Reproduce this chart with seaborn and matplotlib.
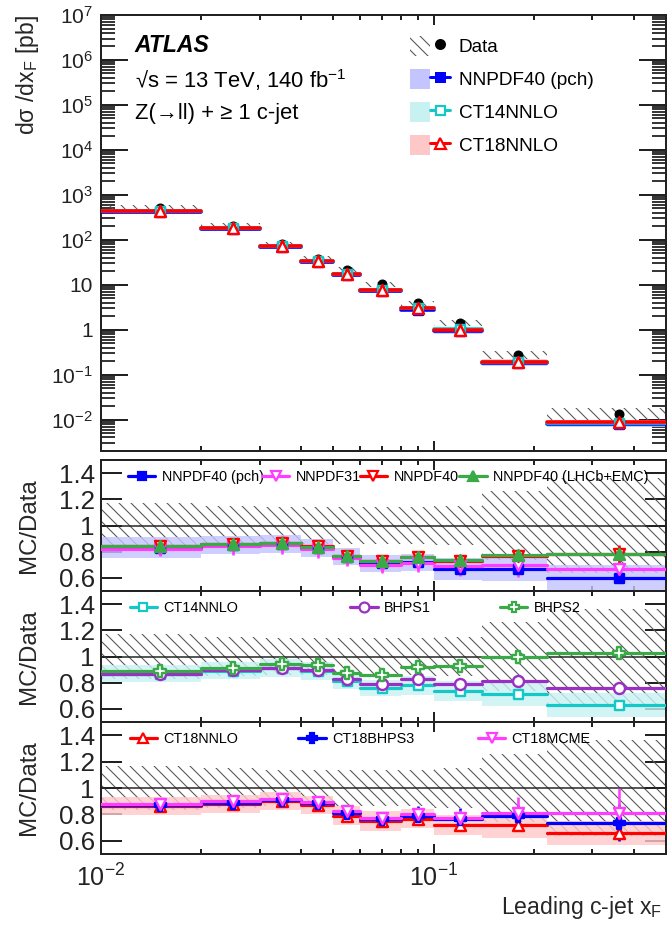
import numpy as np
import pandas as pd
import matplotlib
matplotlib.use("Agg")
import matplotlib.pyplot as plt
import seaborn as sns
from matplotlib.lines import Line2D
from matplotlib.patches import Patch
from matplotlib.legend import Legend
from matplotlib.legend_handler import HandlerTuple
from matplotlib.ticker import FixedLocator, FuncFormatter, NullFormatter, NullLocator

# ---- binning in leading c-jet x_F ----
bin_edges = [0.01, 0.02, 0.03, 0.04, 0.05, 0.06, 0.08, 0.10, 0.14, 0.22, 0.50]

# ---- measured differential cross section [pb] and relative total uncertainty ----
data_xs = [510, 205, 80, 38, 21.5, 10.3, 3.9, 1.4, 0.27, 0.0134]
data_rel_unc = [0.17, 0.15, 0.14, 0.14, 0.14, 0.14, 0.14, 0.15, 0.26, 0.36]

# ---- MC/Data ratios: NNPDF family ----
nnpdf40_pch = [0.83, 0.85, 0.86, 0.83, 0.76, 0.71, 0.72, 0.67, 0.67, 0.60]
nnpdf40_pch_band = [0.08, 0.07, 0.07, 0.07, 0.065, 0.065, 0.065, 0.085, 0.095, 0.10]
nnpdf40_pch_err = [0.01, 0.01, 0.01, 0.01, 0.01, 0.01, 0.015, 0.02, 0.02, 0.04]
nnpdf31 = [0.82, 0.84, 0.85, 0.82, 0.75, 0.70, 0.71, 0.69, 0.70, 0.67]
nnpdf31_err = [0.055, 0.065, 0.07, 0.07, 0.06, 0.06, 0.065, 0.077, 0.09, 0.085]
nnpdf40 = [0.84, 0.86, 0.87, 0.84, 0.77, 0.73, 0.76, 0.73, 0.77, 0.78]
nnpdf40_err = [0.02, 0.02, 0.02, 0.02, 0.02, 0.02, 0.02, 0.02, 0.03, 0.07]
nnpdf40_lhcb = [0.84, 0.855, 0.865, 0.835, 0.77, 0.73, 0.76, 0.735, 0.775, 0.78]

# ---- MC/Data ratios: CT14 and BHPS ----
ct14nnlo = [0.87, 0.89, 0.91, 0.89, 0.81, 0.76, 0.78, 0.735, 0.715, 0.63]
ct14nnlo_band = [0.065, 0.065, 0.07, 0.068, 0.06, 0.06, 0.072, 0.077, 0.095, 0.092]
bhps1 = [0.87, 0.895, 0.915, 0.90, 0.83, 0.79, 0.825, 0.79, 0.81, 0.76]
bhps2 = [0.89, 0.915, 0.945, 0.935, 0.875, 0.86, 0.92, 0.925, 1.0, 1.03]

# ---- MC/Data ratios: CT18 family ----
ct18nnlo = [0.863, 0.88, 0.90, 0.873, 0.79, 0.75, 0.767, 0.72, 0.72, 0.66]
ct18nnlo_band = [0.066, 0.07, 0.07, 0.067, 0.071, 0.072, 0.073, 0.078, 0.095, 0.089]
ct18nnlo_err = [0.01, 0.01, 0.01, 0.01, 0.01, 0.01, 0.01, 0.01, 0.02, 0.03]
ct18bhps3 = [0.873, 0.89, 0.907, 0.883, 0.81, 0.765, 0.79, 0.767, 0.785, 0.737]
ct18bhps3_err = [0.01, 0.01, 0.015, 0.015, 0.02, 0.045, 0.07, 0.08, 0.09, 0.14]
ct18mcme = [0.88, 0.90, 0.914, 0.894, 0.823, 0.77, 0.805, 0.775, 0.81, 0.81]
ct18mcme_err = [0.01, 0.01, 0.015, 0.015, 0.02, 0.03, 0.04, 0.06, 0.12, 0.19]

# ---- axis ticks ----
xs_major = [0.01, 0.1]
xs_minor = [0.02, 0.03, 0.04, 0.05, 0.06, 0.07, 0.08, 0.09, 0.2, 0.3, 0.4]
ys_decades = [1e-2, 1e-1, 1, 10, 1e2, 1e3, 1e4, 1e5, 1e6, 1e7]
ratio_ticks = [0.6, 0.8, 1.0, 1.2, 1.4]

# ---- style ----
sns.set_style("ticks")
plt.rcParams.update({
    "font.family": ["Liberation Sans", "DejaVu Sans"],
    "mathtext.fontset": "custom",
    "mathtext.rm": "Liberation Sans",
    "mathtext.it": "Liberation Sans:italic",
    "mathtext.bf": "Liberation Sans:bold",
    "mathtext.sf": "Liberation Sans",
    "mathtext.default": "regular",
    "hatch.linewidth": 0.55,
    "axes.linewidth": 1.0,
    "axes.edgecolor": "#222222",
    "xtick.color": "#222222",
    "ytick.color": "#222222",
    "text.color": "black",
})

BLUE = "#0000ff"
MAGENTA = "#ff3cff"
RED = "#ff0000"
GREEN = "#3aaa48"
TEAL = "#14c8c8"
PURPLE = "#9a2fc4"
BLUE_BAND = "#c4c4ff"
TEAL_BAND = "#c8f2f2"
RED_BAND = "#ffc8c8"
HATCH_COL = "#5a5a5a"
HATCH = chr(92) * 4  # dense down-right diagonal lines

edges = np.array(bin_edges)
lo, hi = edges[:-1], edges[1:]
centers = 0.5 * (lo + hi)
nbin = len(centers)
data = np.array(data_xs)
drel = np.array(data_rel_unc)

fig = plt.figure(figsize=(667 / 144, 928 / 144), dpi=144)
L, W = 101 / 667, 565 / 667
ax_top = fig.add_axes([L, 1 - 451 / 928, W, 436 / 928])
ax_r1 = fig.add_axes([L, 1 - 591 / 928, W, 131 / 928])
ax_r2 = fig.add_axes([L, 1 - 722 / 928, W, 131 / 928])
ax_r3 = fig.add_axes([L, 1 - 854 / 928, W, 132 / 928])
ratio_axes = [ax_r1, ax_r2, ax_r3]


def segments(values):
    """Long table of one horizontal segment per bin."""
    v = np.asarray(values, dtype=float)
    return pd.DataFrame({
        "x": np.r_[lo, hi],
        "y": np.r_[v, v],
        "bin": np.r_[np.arange(nbin), np.arange(nbin)],
    })


def draw_line(ax, values, color, lw=1.5, z=3):
    sns.lineplot(data=segments(values), x="x", y="y", units="bin", estimator=None,
                 color=color, lw=lw, ax=ax, legend=False, zorder=z)


def draw_band(ax, values, half, color, z=2, alpha=0.85):
    v = np.asarray(values, dtype=float)
    h = np.asarray(half, dtype=float)
    ax.bar(lo, 2 * h, bottom=v - h, width=hi - lo, align="edge",
           color=color, alpha=alpha, linewidth=0, zorder=z)


def draw_markers(ax, values, color, marker, open_=False, size=5.5, err=None, z=5):
    v = np.asarray(values, dtype=float)
    if err is not None:
        ax.errorbar(centers, v, yerr=err, fmt="none", ecolor=color, elinewidth=1.3,
                    capsize=0, zorder=z - 0.5)
    fc = "white" if open_ else color
    sns.scatterplot(x=centers, y=v, marker=marker, s=size ** 2, facecolor=fc,
                    edgecolor=color, linewidth=1.2, ax=ax, zorder=z, legend=False)


def draw_data_hatch(ax, lower, upper, z=1):
    ax.bar(lo, upper - lower, bottom=lower, width=hi - lo, align="edge",
           facecolor="none", edgecolor=HATCH_COL, hatch=HATCH, linewidth=0, zorder=z)


def log_label(v, pos):
    e = int(round(np.log10(v)))
    if e == 0:
        return "1"
    if e == 1:
        return "10"
    return r"$\mathregular{10^{%d}}$" % e


# ================= top panel =================
ax = ax_top
ax.set_xscale("log")
ax.set_yscale("log")
ax.set_xlim(0.01, 0.5)
ax.set_ylim(2e-3, 1e7)

draw_data_hatch(ax, data * (1 - drel), data * (1 + drel))
pred_pch = np.array(nnpdf40_pch) * data
pred_ct14 = np.array(ct14nnlo) * data
pred_ct18 = np.array(ct18nnlo) * data
draw_band(ax, pred_pch, np.array(nnpdf40_pch_band) * data, BLUE_BAND)
draw_band(ax, pred_ct14, np.array(ct14nnlo_band) * data, TEAL_BAND)
draw_band(ax, pred_ct18, np.array(ct18nnlo_band) * data, RED_BAND)
draw_line(ax, pred_pch, BLUE, lw=1.8)
draw_line(ax, pred_ct14, TEAL, lw=1.8)
draw_line(ax, pred_ct18, RED, lw=1.8)
sns.scatterplot(x=centers, y=data, marker="o", s=4.5 ** 2, color="black",
                edgecolor="black", linewidth=0.5, ax=ax, zorder=4, legend=False)
draw_markers(ax, pred_pch, BLUE, "s", size=4.5, z=5)
draw_markers(ax, pred_ct14, TEAL, "s", open_=True, size=4.5, z=5.2)
draw_markers(ax, pred_ct18, RED, "^", open_=True, size=5.5, z=5.4)

y_minor = [m * d for d in [1e-3] + ys_decades[:-1] for m in range(2, 10)
           if 2e-3 <= m * d <= 1e7]
ax.yaxis.set_major_locator(FixedLocator(ys_decades))
ax.yaxis.set_minor_locator(FixedLocator(y_minor))
ax.yaxis.set_major_formatter(FuncFormatter(log_label))
ax.yaxis.set_minor_formatter(NullFormatter())
ax.set_ylabel(r"dσ /dx$_\mathregular{F}$ [pb]", loc="top", fontsize=11.5)
ax.yaxis.set_label_coords(-0.106, 1.0)

ax.text(0.06, 0.931, "ATLAS", transform=ax.transAxes, fontsize=11.5,
        fontweight="bold", fontstyle="italic", va="center", ha="left")
ax.text(0.06, 0.851, "√s = 13 TeV, 140 fb$^{-1}$", transform=ax.transAxes,
        fontsize=11, va="center", ha="left")
ax.text(0.06, 0.775, "Z(→ll) + ≥ 1 c-jet", transform=ax.transAxes,
        fontsize=11, va="center", ha="left")

top_handles = [
    (Patch(facecolor="none", edgecolor=HATCH_COL, hatch=HATCH, linewidth=0),
     Line2D([], [], ls="none", marker="o", color="black", ms=4.5)),
    (Patch(facecolor=BLUE_BAND, edgecolor="none"),
     Line2D([], [], color=BLUE, lw=1.5, marker="s", ms=4.5)),
    (Patch(facecolor=TEAL_BAND, edgecolor="none"),
     Line2D([], [], color=TEAL, lw=1.5, marker="s", ms=4.5, mfc="white", mew=1.1)),
    (Patch(facecolor=RED_BAND, edgecolor="none"),
     Line2D([], [], color=RED, lw=1.5, marker="^", ms=5.5, mfc="white", mew=1.1)),
]
top_labels = ["Data", "NNPDF40 (pch)", "CT14NNLO", "CT18NNLO"]
ax.legend(top_handles, top_labels, handler_map={tuple: HandlerTuple(ndivide=None, pad=0)},
          loc="upper left", bbox_to_anchor=(0.547, 0.952), frameon=False,
          fontsize=9.5, handlelength=2.1, handleheight=1.25, handletextpad=0.45,
          labelspacing=0.66, borderpad=0, borderaxespad=0)

# ================= ratio panels =================
ratio_models = [
    [  # NNPDF family
        dict(label="NNPDF40 (pch)", y=nnpdf40_pch, band=nnpdf40_pch_band, err=nnpdf40_pch_err,
             color=BLUE, marker="s", open_=False, band_color=BLUE_BAND, ms=4.5),
        dict(label="NNPDF31", y=nnpdf31, err=nnpdf31_err, color=MAGENTA, marker="v", open_=True, ms=5.5),
        dict(label="NNPDF40", y=nnpdf40, err=nnpdf40_err, color=RED, marker="v", open_=True, ms=5.5),
        dict(label="NNPDF40 (LHCb+EMC)", y=nnpdf40_lhcb, color=GREEN, marker="^", open_=False, ms=5.5),
    ],
    [  # CT14 and intrinsic charm models
        dict(label="CT14NNLO", y=ct14nnlo, band=ct14nnlo_band, color=TEAL, marker="s",
             open_=True, band_color=TEAL_BAND, ms=4.5),
        dict(label="BHPS1", y=bhps1, color=PURPLE, marker="o", open_=True, ms=5.5),
        dict(label="BHPS2", y=bhps2, color=GREEN, marker="P", open_=True, ms=6),
    ],
    [  # CT18 family
        dict(label="CT18NNLO", y=ct18nnlo, band=ct18nnlo_band, err=ct18nnlo_err, color=RED,
             marker="^", open_=True, band_color=RED_BAND, ms=5.5),
        dict(label="CT18BHPS3", y=ct18bhps3, err=ct18bhps3_err, color=BLUE, marker="P", open_=False, ms=5.5),
        dict(label="CT18MCME", y=ct18mcme, err=ct18mcme_err, color=MAGENTA, marker="v", open_=True, ms=5.5),
    ],
]
legend_x = [
    [0.048, 0.285, 0.458, 0.634],
    [0.051, 0.441, 0.706],
    [0.051, 0.349, 0.667],
]

for ax, models, xs in zip(ratio_axes, ratio_models, legend_x):
    ax.set_xscale("log")
    ax.set_xlim(0.01, 0.5)
    ax.set_ylim(0.5, 1.5)
    draw_data_hatch(ax, 1 - drel, 1 + drel)
    for m in models:
        if "band" in m:
            draw_band(ax, m["y"], m["band"], m["band_color"], z=2, alpha=0.8)
    ax.axhline(1.0, color="#222222", lw=0.75, zorder=2.5)
    for i, m in enumerate(models):
        draw_line(ax, m["y"], m["color"], lw=1.6, z=3 + 0.1 * i)
    for i, m in enumerate(models):
        draw_markers(ax, m["y"], m["color"], m["marker"], open_=m["open_"], size=m["ms"],
                     err=m.get("err"), z=5 + 0.1 * i)
    for m, x0 in zip(models, xs):
        h = Line2D([], [], color=m["color"], lw=1.6, marker=m["marker"], ms=m["ms"] * 0.9,
                   mfc="white" if m["open_"] else m["color"], mew=1.1)
        leg = Legend(ax, [h], [m["label"]], loc="center left", bbox_to_anchor=(x0, 0.87),
                     bbox_transform=ax.transAxes, frameon=False, fontsize=7.2,
                     handlelength=1.9, handletextpad=0.45, borderpad=0, borderaxespad=0)
        leg.set_zorder(10)
        ax.add_artist(leg)
    ax.yaxis.set_major_locator(FixedLocator(ratio_ticks))
    ax.yaxis.set_major_formatter(FuncFormatter(lambda v, p: "1" if abs(v - 1) < 1e-9 else f"{v:.1f}"))
    ax.yaxis.set_minor_locator(NullLocator())
    ax.set_ylabel("MC/Data", fontsize=12)
    ax.yaxis.set_label_coords(-0.108, 0.5)
    ax.tick_params(axis="y", which="major", direction="in", length=10.5, width=1.0,
                   left=True, right=True, labelsize=13, pad=3)

ax_top.tick_params(axis="y", which="major", direction="in", length=13.5, width=1.0,
                   left=True, right=True, labelsize=10.5, pad=4)
ax_top.tick_params(axis="y", which="minor", direction="in", length=7, width=0.9,
                   left=True, right=True)

for ax in [ax_top] + ratio_axes:
    ax.xaxis.set_major_locator(FixedLocator(xs_major))
    ax.xaxis.set_minor_locator(FixedLocator(xs_minor))
    ax.xaxis.set_minor_formatter(NullFormatter())
    ax.tick_params(axis="x", which="major", direction="in", length=5, width=1.0,
                   top=True, bottom=True)
    ax.tick_params(axis="x", which="minor", direction="in", length=2.5, width=1.0,
                   top=True, bottom=True)
    if ax is not ax_r3:
        ax.xaxis.set_major_formatter(NullFormatter())
        ax.set_xlabel("")
    for s in ax.spines.values():
        s.set_visible(True)

ax_r3.xaxis.set_major_formatter(FuncFormatter(log_label))
ax_r3.tick_params(axis="x", which="major", labelsize=12.5, pad=5)
ax_r3.set_xlabel(r"Leading c-jet x$_\mathregular{F}$", loc="right", fontsize=11.5)
ax_r3.xaxis.set_label_coords(0.993, -0.30)

fig.savefig("out.png", dpi=144)
